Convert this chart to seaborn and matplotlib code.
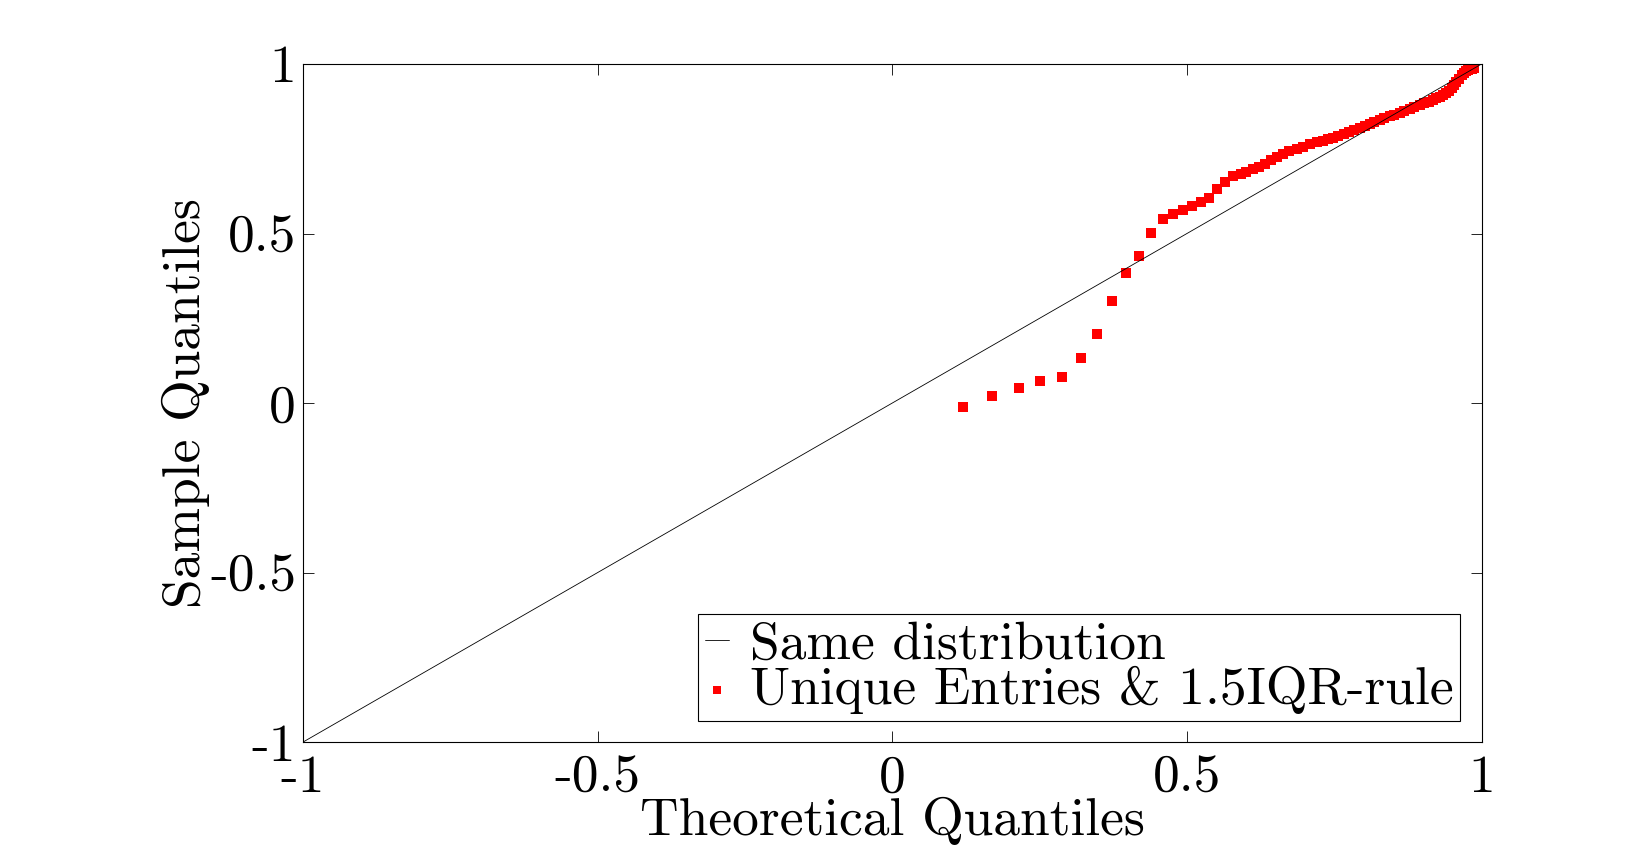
import matplotlib
matplotlib.use("Agg")
import matplotlib.pyplot as plt
import seaborn as sns
import pandas as pd

# diagonal reference (same distribution)
diag_x = [-1, 1]
diag_y = [-1, 1]

# QQ points: theoretical vs sample quantiles
theo_q = [0.120, 0.170, 0.215, 0.250, 0.288, 0.320, 0.347, 0.372, 0.396, 0.418,
          0.439, 0.459, 0.476, 0.493, 0.509, 0.524, 0.537, 0.551, 0.565, 0.578,
          0.591, 0.600, 0.612, 0.622, 0.632, 0.643, 0.653, 0.663, 0.674, 0.686,
          0.697, 0.708, 0.720, 0.731, 0.739, 0.748, 0.757, 0.766, 0.775, 0.784,
          0.793, 0.802, 0.810, 0.818, 0.827, 0.835, 0.844, 0.852, 0.861, 0.869,
          0.878, 0.886, 0.895, 0.903, 0.910, 0.917, 0.923, 0.929, 0.934, 0.939,
          0.944, 0.949, 0.953, 0.957, 0.961, 0.966, 0.970, 0.974, 0.977, 0.980,
          0.983, 0.986, 0.988]
sample_q = [-0.012, 0.021, 0.044, 0.065, 0.077, 0.133, 0.204, 0.301, 0.383, 0.434,
            0.501, 0.543, 0.558, 0.568, 0.580, 0.592, 0.606, 0.630, 0.651, 0.669,
            0.676, 0.681, 0.690, 0.697, 0.705, 0.717, 0.725, 0.734, 0.743, 0.749,
            0.756, 0.763, 0.769, 0.773, 0.778, 0.783, 0.789, 0.794, 0.799, 0.805,
            0.812, 0.818, 0.823, 0.829, 0.835, 0.840, 0.846, 0.851, 0.856, 0.862,
            0.867, 0.873, 0.879, 0.884, 0.889, 0.894, 0.899, 0.904, 0.909, 0.915,
            0.921, 0.928, 0.938, 0.948, 0.957, 0.968, 0.974, 0.978, 0.982, 0.984,
            0.986, 0.987, 0.988]

ticks = [-1, -0.5, 0, 0.5, 1]
tick_labels = ["-1", "-0.5", "0", "0.5", "1"]

sns.set_style("white")
plt.rcParams['font.family'] = ['cmr10', 'DejaVu Serif']
plt.rcParams['axes.unicode_minus'] = False
plt.rcParams['text.color'] = 'black'
plt.rcParams['axes.labelcolor'] = 'black'
plt.rcParams['xtick.color'] = 'black'
plt.rcParams['ytick.color'] = 'black'

df = pd.DataFrame({"x": theo_q, "y": sample_q})

fig = plt.figure(figsize=(16.38, 8.51), dpi=100)
ax = fig.add_axes([0.185, 0.128, 0.7195, 0.7968])

sns.lineplot(x=diag_x, y=diag_y, color="black", linewidth=0.6,
             label="Same distribution", ax=ax)
sns.scatterplot(data=df, x="x", y="y", color="red", marker="s", s=42,
                linewidth=0, label="Unique Entries & 1.5IQR-rule", ax=ax)

ax.set_xlim(-1, 1)
ax.set_ylim(-1, 1)
ax.set_xticks(ticks)
ax.set_xticklabels(tick_labels)
ax.set_yticks(ticks)
ax.set_yticklabels(tick_labels)
ax.tick_params(direction="in", length=8, width=0.6, labelsize=38.5,
               top=True, right=True, bottom=True, left=True)
ax.tick_params(axis="x", pad=9)
ax.tick_params(axis="y", pad=5)
for s in ax.spines.values():
    s.set_visible(True)
    s.set_color("black")
    s.set_linewidth(0.8)

ax.set_xlabel("Theoretical Quantiles", fontsize=38.5, labelpad=-3)
ax.set_ylabel("Sample Quantiles", fontsize=38.5, labelpad=0)

leg = ax.legend(loc="lower right", fontsize=38.5, frameon=True, fancybox=False,
                edgecolor="black", framealpha=1, handlelength=0.45,
                handletextpad=0.38, borderpad=0.13, labelspacing=-0.06,
                borderaxespad=0.4, markerscale=0.9)
leg.get_frame().set_linewidth(0.8)

fig.savefig("out.png", dpi=100)
